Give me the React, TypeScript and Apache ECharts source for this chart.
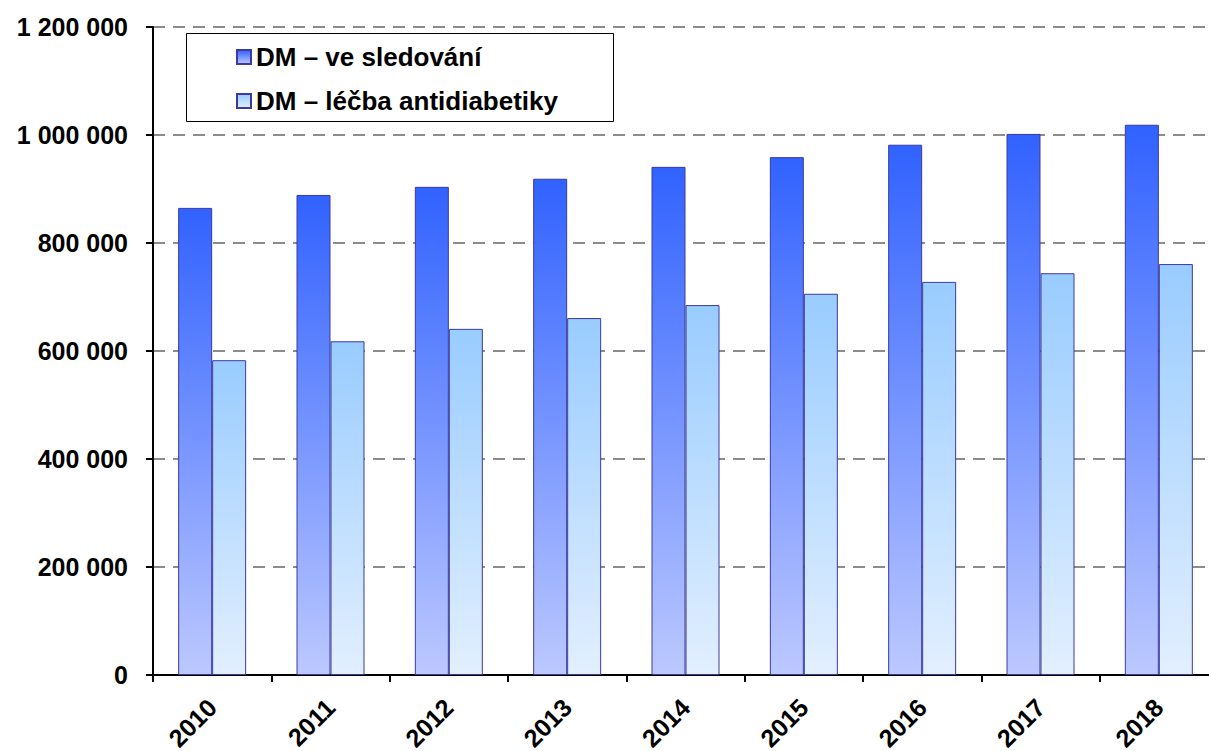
import React, { useEffect, useRef } from "react";
import * as echarts from "echarts";

const years = ["2010", "2011", "2012", "2013", "2014", "2015", "2016", "2017", "2018"];
const monitored = [865000, 889000, 904000, 919000, 941000, 959000, 982000, 1002000, 1019000];
const treated = [583000, 618000, 641000, 661000, 685000, 706000, 728000, 744000, 761000];
const seriesNames = ["DM – ve sledování", "DM – léčba antidiabetiky"];

const fmt = (v: number) => String(v).replace(/\B(?=(\d{3})+(?!\d))/g, " ");

export default function App() {
  const ref = useRef<HTMLDivElement>(null);
  useEffect(() => {
    document.body.style.margin = "0";
    const chart = echarts.init(ref.current!, null, { renderer: "svg" });
    const font = "'Liberation Sans', Arial, sans-serif";
    chart.setOption({
      animation: false,
      backgroundColor: "#ffffff",
      grid: {
        left: 153,
        width: 1065,
        top: 27,
        height: 648,
        outerBoundsMode: "none",
        containLabel: false,
      },
      graphic: [
        {
          type: "rect",
          left: 186,
          top: 33,
          shape: { width: 427, height: 88 },
          style: { fill: "#ffffff", stroke: "#000000", lineWidth: 1 },
          z: 5,
        },
      ],
      legend: {
        orient: "vertical",
        left: 236,
        top: 44,
        padding: 0,
        itemWidth: 14,
        itemHeight: 14,
        itemGap: 18,
        icon: "rect",
        z: 10,
        textStyle: { fontFamily: font, fontWeight: "bold", fontSize: 26, color: "#000" },
        data: seriesNames,
      },
      xAxis: {
        type: "category",
        data: years,
        axisLine: { lineStyle: { color: "#000", width: 2 } },
        axisTick: { show: true, length: 7, lineStyle: { color: "#000", width: 2 } },
        axisLabel: {
          interval: 0,
          rotate: 45,
          margin: 28,
          fontFamily: font,
          fontWeight: "bold",
          fontSize: 25,
          color: "#000",
        },
      },
      yAxis: {
        type: "value",
        min: 0,
        max: 1200000,
        interval: 200000,
        axisLine: { show: true, lineStyle: { color: "#000", width: 2 } },
        axisTick: { show: true, length: 7, lineStyle: { color: "#000", width: 2 } },
        axisLabel: {
          margin: 25,
          formatter: (v: number) => fmt(v),
          fontFamily: font,
          fontWeight: "bold",
          fontSize: 25,
          color: "#000",
        },
        splitLine: { lineStyle: { color: "#8c8c8c", width: 2, type: [12, 8] } },
      },
      series: [
        {
          name: seriesNames[0],
          type: "bar",
          data: monitored,
          barWidth: 34,
          barGap: "0%",
          itemStyle: {
            color: new echarts.graphic.LinearGradient(0, 0, 0, 1, [
              { offset: 0, color: "#3162ff" },
              { offset: 1, color: "#bcc8ff" },
            ]),
            borderColor: "#3a3aa0",
            borderWidth: 1,
          },
        },
        {
          name: seriesNames[1],
          type: "bar",
          data: treated,
          barWidth: 34,
          barGap: "0%",
          itemStyle: {
            color: new echarts.graphic.LinearGradient(0, 0, 0, 1, [
              { offset: 0, color: "#99ccff" },
              { offset: 1, color: "#e2efff" },
            ]),
            borderColor: "#3a3aa0",
            borderWidth: 1,
          },
        },
      ],
    });
    return () => chart.dispose();
  }, []);
  return <div ref={ref} style={{ width: 1209, height: 751 }} />;
}
